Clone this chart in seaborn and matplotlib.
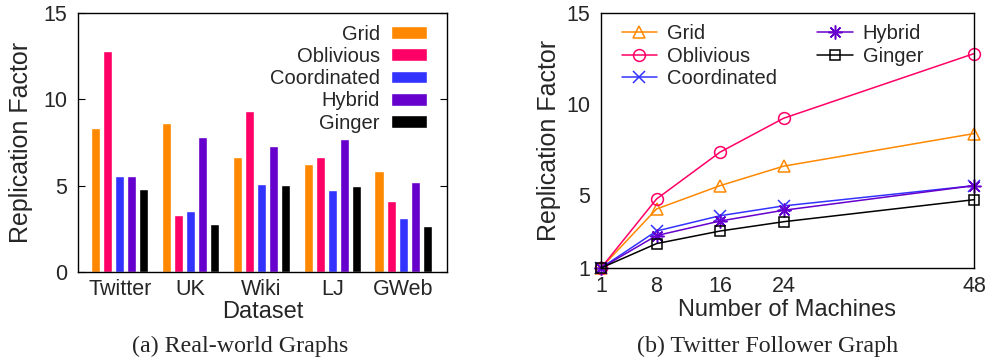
import matplotlib
matplotlib.use("Agg")
import matplotlib.pyplot as plt
import seaborn as sns
import pandas as pd

# ---- data ----
datasets = ["Twitter", "UK", "Wiki", "LJ", "GWeb"]
methods = ["Grid", "Oblivious", "Coordinated", "Hybrid", "Ginger"]
grid_vals = [8.32, 8.63, 6.68, 6.25, 5.85]
oblivious_vals = [12.8, 3.30, 9.32, 6.68, 4.11]
coordinated_vals = [5.56, 3.53, 5.10, 4.75, 3.13]
hybrid_vals = [5.56, 7.82, 7.30, 7.70, 5.21]
ginger_vals = [4.80, 2.78, 5.04, 4.98, 2.66]

machines = [1, 8, 16, 24, 48]
grid_line = [1.0, 4.24, 5.52, 6.59, 8.38]
oblivious_line = [1.0, 4.79, 7.36, 9.22, 12.77]
coordinated_line = [1.0, 3.03, 3.87, 4.41, 5.52]
hybrid_line = [1.0, 2.78, 3.58, 4.17, 5.52]
ginger_line = [1.0, 2.34, 3.03, 3.54, 4.75]

colors = ["#FF8800", "#FF0066", "#3333FF", "#6600CC", "#000000"]
palette = dict(zip(methods, colors))

bar_series = [grid_vals, oblivious_vals, coordinated_vals, hybrid_vals, ginger_vals]
line_series = [grid_line, oblivious_line, coordinated_line, hybrid_line, ginger_line]

bar_df = pd.DataFrame(
    [(d, m, v) for m, vals in zip(methods, bar_series) for d, v in zip(datasets, vals)],
    columns=["Dataset", "Method", "Value"],
)
line_df = pd.DataFrame(
    [(x, m, v) for m, vals in zip(methods, line_series) for x, v in zip(machines, vals)],
    columns=["Machines", "Method", "Value"],
)

sns.set_theme(style="white")
plt.rcParams["font.family"] = ["Liberation Sans", "DejaVu Sans"]

fig = plt.figure(figsize=(9.85, 3.64), dpi=100)
ax1 = fig.add_axes([78 / 985, 92 / 364, 369 / 985, 259 / 364])
ax2 = fig.add_axes([601 / 985, 96 / 364, 373 / 985, 255 / 364])

TICK = 15.5
LEG = 14.5
LAB = 17

# ---- left: bar chart ----
sns.barplot(data=bar_df, x="Dataset", y="Value", hue="Method", palette=palette,
            width=0.85, gap=0.25, saturation=1, ax=ax1, errorbar=None)
ax1.set_ylim(0, 15)
ax1.set_xlim(-0.59, 4.62)
ax1.set_yticks([0, 5, 10, 15])
ax1.set_xlabel("Dataset", fontsize=LAB, labelpad=1)
ax1.set_ylabel("Replication Factor", fontsize=LAB + 1)
ax1.yaxis.set_label_coords(-0.122, 0.5)
ax1.tick_params(axis="y", direction="in", length=5, width=0.8, labelsize=TICK,
                left=True, right=True, pad=8, color="black")
ax1.tick_params(axis="x", length=0, labelsize=TICK, pad=5)
handles, labels = ax1.get_legend_handles_labels()
ax1.legend(handles, labels, loc="upper right", bbox_to_anchor=(0.946, 0.955),
           frameon=False, markerfirst=False, fontsize=LEG, borderpad=0,
           handlelength=1.8, handleheight=0.6, handletextpad=0.55,
           labelspacing=0.16, borderaxespad=0)

# ---- right: line chart ----
markers = {"Grid": "^", "Oblivious": "o", "Coordinated": "x",
           "Hybrid": (8, 2, 0), "Ginger": "s"}
msizes = {"Grid": 8.5, "Oblivious": 8.5, "Coordinated": 9, "Hybrid": 10, "Ginger": 7.5}
for m in methods:
    sub = line_df[line_df["Method"] == m]
    sns.lineplot(data=sub, x="Machines", y="Value", color=palette[m], label=m,
                 marker=markers[m], markersize=msizes[m], markerfacecolor="none",
                 markeredgecolor=palette[m], markeredgewidth=1.1,
                 linewidth=1.1, ax=ax2, legend=True)
ax2.set_xlim(1, 48)
ax2.set_ylim(1, 15)
ax2.set_xticks(machines)
ax2.set_yticks([1, 5, 10, 15])
ax2.set_xlabel("Number of Machines", fontsize=LAB, labelpad=1)
ax2.set_ylabel("Replication Factor", fontsize=LAB + 1)
ax2.yaxis.set_label_coords(-0.108, 0.5)
ax2.tick_params(axis="both", direction="in", length=5, width=0.8, labelsize=TICK,
                color="black")
ax2.tick_params(axis="y", pad=8)
ax2.tick_params(axis="x", pad=6)
h2, l2 = ax2.get_legend_handles_labels()
ax2.legend(h2, l2, loc="upper left", bbox_to_anchor=(0.0555, 0.955),
           frameon=False, ncol=2, fontsize=LEG, borderpad=0,
           handlelength=1.75, handletextpad=0.5, columnspacing=2.0,
           labelspacing=0.16, borderaxespad=0)
for ln in ax2.lines:
    ln.set_clip_on(False)

for ax in (ax1, ax2):
    for s in ax.spines.values():
        s.set_visible(True)
        s.set_color("black")
        s.set_linewidth(1.0)
    ax.set_facecolor("white")

serif = ["Liberation Serif", "DejaVu Serif"]
fig.text(240 / 985, 12 / 364, "(a) Real-world Graphs", ha="center", va="baseline",
         fontsize=17.3, family=serif)
fig.text(768 / 985, 12 / 364, "(b) Twitter Follower Graph", ha="center", va="baseline",
         fontsize=17.3, family=serif)

fig.savefig("out.png", dpi=100, facecolor="white")
